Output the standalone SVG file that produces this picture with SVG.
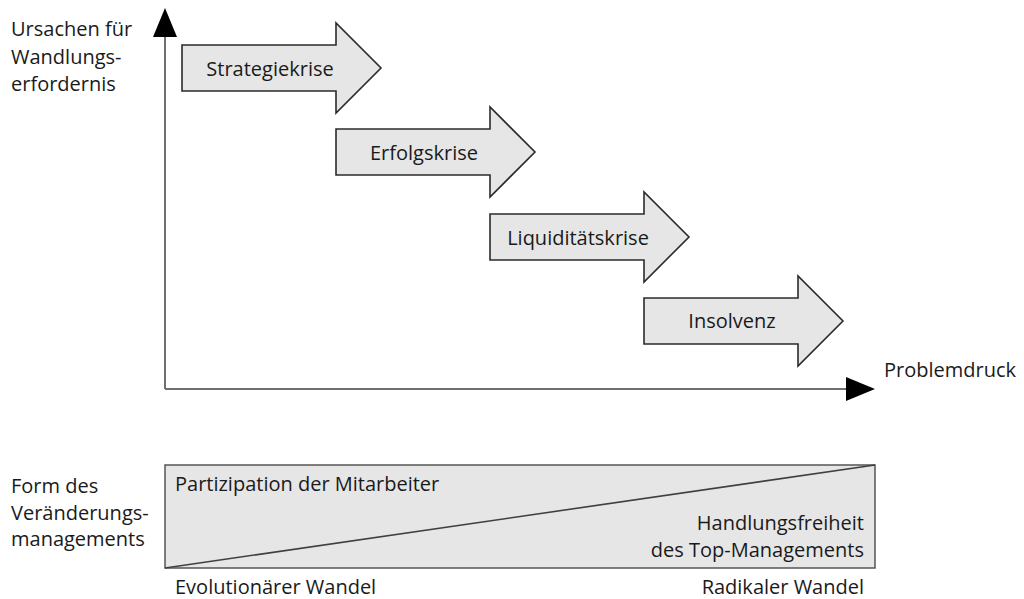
<svg xmlns="http://www.w3.org/2000/svg" xmlns:xlink="http://www.w3.org/1999/xlink" width="1024" height="599" viewBox="0 0 1024 599">
  <style>
    text { font-family: "Open Sans", "Noto Sans", "Liberation Sans", sans-serif; font-size: 20px; fill: #1a1a1a; }
    .mid { text-anchor: middle; }
    .end { text-anchor: end; }
    .crisis { fill: #e6e6e6; stroke: #2b2b2b; stroke-width: 1.6; stroke-linejoin: miter; }
    .axis { fill: none; stroke: #707070; stroke-width: 2; }
    .panel { fill: #e6e6e6; stroke: #555555; stroke-width: 1.5; }
    .split { fill: none; stroke: #404040; stroke-width: 1.6; }
  </style>
  <defs>
    <!-- block arrow, origin at left edge / vertical centre -->
    <path id="crisisArrow" class="crisis" d="M0,-23 H154 V-45 L199,0 L154,45 V23 H0 Z"/>
    <marker id="axisHead" viewBox="0 0 29 24" refX="0" refY="12" markerWidth="29" markerHeight="24" markerUnits="userSpaceOnUse" orient="auto">
      <path d="M0,0 L29,12 L0,24 Z" fill="#000000"/>
    </marker>
  </defs>

  <rect width="1024" height="599" fill="#ffffff"/>

  <!-- axes -->
  <g id="connectors">
    <line class="axis" x1="165" y1="389" x2="165" y2="37" marker-end="url(#axisHead)"/>
    <line class="axis" x1="165" y1="389" x2="846" y2="389" marker-end="url(#axisHead)"/>
  </g>

  <!-- axis labels -->
  <g id="label-y-axis">
    <text x="11" y="36">Ursachen für</text>
    <text x="11" y="64">Wandlungs-</text>
    <text x="11" y="91">erfordernis</text>
  </g>
  <g id="label-x-axis">
    <text x="884" y="377">Problemdruck</text>
  </g>

  <!-- crisis stages -->
  <g id="stage-strategiekrise">
    <use xlink:href="#crisisArrow" href="#crisisArrow" x="182" y="68"/>
    <text class="mid" x="270" y="75.5">Strategiekrise</text>
  </g>
  <g id="stage-erfolgskrise">
    <use xlink:href="#crisisArrow" href="#crisisArrow" x="336" y="152"/>
    <text class="mid" x="424" y="159.5">Erfolgskrise</text>
  </g>
  <g id="stage-liquiditaetskrise">
    <use xlink:href="#crisisArrow" href="#crisisArrow" x="490" y="237"/>
    <text class="mid" x="578" y="244.5">Liquiditätskrise</text>
  </g>
  <g id="stage-insolvenz">
    <use xlink:href="#crisisArrow" href="#crisisArrow" x="644" y="321"/>
    <text class="mid" x="732" y="328">Insolvenz</text>
  </g>

  <!-- change management panel -->
  <g id="label-change-management">
    <text x="11" y="493">Form des</text>
    <text x="11" y="520">Veränderungs-</text>
    <text x="11" y="546">managements</text>
  </g>
  <g id="change-panel">
    <rect class="panel" x="165" y="465" width="710" height="103"/>
    <line class="split" x1="165" y1="568" x2="875" y2="465"/>
    <text x="175" y="491">Partizipation der Mitarbeiter</text>
    <text class="end" x="864" y="530">Handlungsfreiheit</text>
    <text class="end" x="864" y="557">des Top-Managements</text>
  </g>
  <g id="scale-labels">
    <text x="175" y="594">Evolutionärer Wandel</text>
    <text class="end" x="864" y="594">Radikaler Wandel</text>
  </g>
</svg>
